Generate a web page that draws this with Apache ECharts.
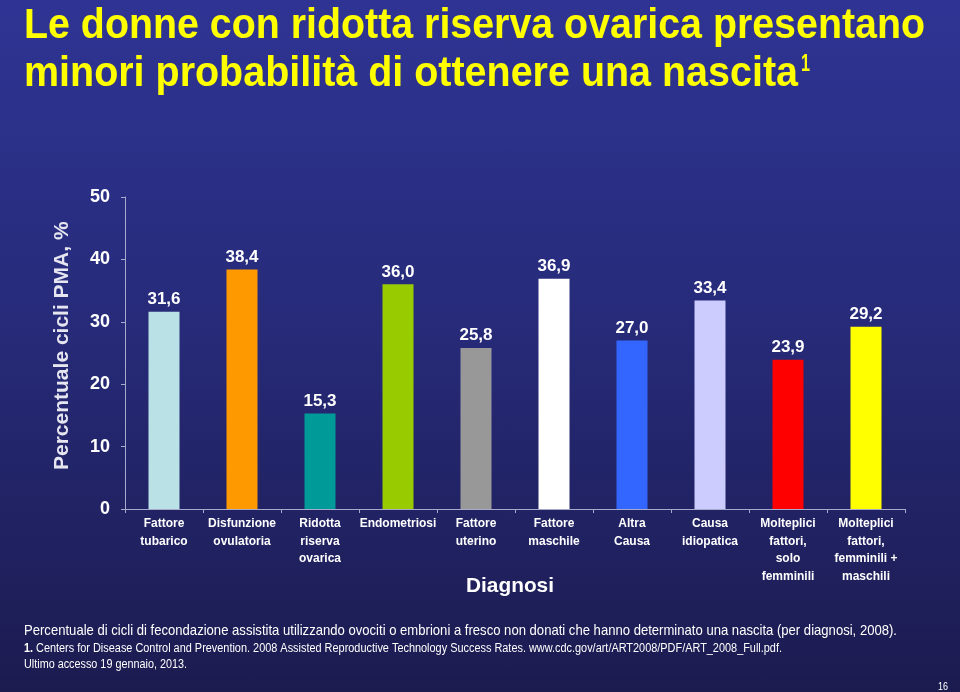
<!DOCTYPE html>
<html><head><meta charset="utf-8">
<script src="https://cdn.jsdelivr.net/npm/echarts@6/dist/echarts.min.js"></script>
<style>html,body{margin:0;padding:0;}#c{width:960px;height:692px;background:linear-gradient(180deg,#2f3494 0%,#272b7a 45%,#1c1b50 100%);}</style>
</head><body><div id="c"></div>
<script>
const categories = ["Fattore\ntubarico","Disfunzione\novulatoria","Ridotta\nriserva\novarica","Endometriosi","Fattore\nuterino","Fattore\nmaschile","Altra\nCausa","Causa\nidiopatica","Molteplici\nfattori,\nsolo\nfemminili","Molteplici\nfattori,\nfemminili +\nmaschili"];
const values = [31.6,38.4,15.3,36.0,25.8,36.9,27.0,33.4,23.9,29.2];
const barColors = ["#b9e1e6","#ff9900","#009a98","#99cc00","#989898","#ffffff","#3366ff","#ccccff","#ff0000","#ffff00"];
const yTicks = [0,10,20,30,40,50];
const titleLines = ["Le donne con ridotta riserva ovarica presentano","minori probabilità di ottenere una nascita"];
const noteLines = [
  "Percentuale di cicli di fecondazione assistita utilizzando ovociti o embrioni a fresco non donati che hanno determinato una nascita (per diagnosi, 2008).",
  "Centers for Disease Control and Prevention. 2008 Assisted Reproductive Technology Success Rates. www.cdc.gov/art/ART2008/PDF/ART_2008_Full.pdf.",
  "Ultimo accesso 19 gennaio, 2013."
];
const sans = '"Liberation Sans",Arial,sans-serif';

const ctx = document.createElement('canvas').getContext('2d');
function fitScale(text, weight, size, target) {
  ctx.font = weight + ' ' + size + 'px "Liberation Sans"';
  return target / ctx.measureText(text).width;
}
function txt(text, x, y, size, weight, color, target, extra) {
  const s = target ? fitScale(text, weight, size, target) : 1;
  return Object.assign({type: 'text', x: x, y: y, scaleX: s, scaleY: 1, silent: true,
    style: {text: text, fill: color, fontFamily: sans, fontWeight: weight, fontSize: size, align: 'left', verticalAlign: 'middle'}}, extra || {});
}

const chart = echarts.init(document.getElementById('c'));
chart.setOption({
  backgroundColor: 'transparent',
  animation: false,
  graphic: [
    txt(titleLines[0], 24, 26, 42, 'bold', '#ffff00', 901),
    txt(titleLines[1], 24, 74, 42, 'bold', '#ffff00', 774),
    txt('1', 801, 64, 24, 'bold', '#ffff00', 9),
    txt('Diagnosi', 466, 586, 21, 'bold', '#ffffff', 88),
    txt('Percentuale cicli PMA, %', 62, 470, 21, 'bold', '#e6e6f0', null, {rotation: Math.PI / 2}),
    txt(noteLines[0], 24, 631, 15, 'normal', '#ffffff', 873),
    txt('1.', 24, 649, 12, 'bold', '#ffffff', 9),
    txt(noteLines[1], 36, 649, 12, 'normal', '#ffffff', 746),
    txt(noteLines[2], 24, 665, 12, 'normal', '#ffffff', 163),
    txt('16', 938, 687, 11, 'normal', '#ffffff', 10)
  ],
  grid: {left: 125, right: 55, top: 197, bottom: 183},
  xAxis: {
    type: 'category', data: categories,
    axisLine: {lineStyle: {color: '#a8aacc', width: 1}},
    axisTick: {show: true, alignWithLabel: false, length: 4, lineStyle: {color: '#a8aacc'}},
    axisLabel: {color: '#ffffff', fontFamily: sans, fontWeight: 'bold', fontSize: 12, lineHeight: 17.5, interval: 0, margin: 6}
  },
  yAxis: {
    type: 'value', min: 0, max: 50, interval: 10,
    axisLine: {show: true, lineStyle: {color: '#a8aacc', width: 1}},
    axisTick: {show: true, length: 4, lineStyle: {color: '#a8aacc'}},
    splitLine: {show: false},
    axisLabel: {color: '#ffffff', fontFamily: sans, fontWeight: 'bold', fontSize: 18, margin: 15,
      formatter: v => yTicks.includes(v) ? String(v) : ''}
  },
  series: [{
    type: 'bar', barWidth: 31,
    data: values.map((v, i) => ({value: v, itemStyle: {color: barColors[i]}})),
    label: {show: true, position: 'top', distance: 4, color: '#ffffff', fontFamily: sans, fontWeight: 'bold', fontSize: 17,
      formatter: p => p.value.toFixed(1).replace('.', ',')}
  }]
});
</script></body></html>
